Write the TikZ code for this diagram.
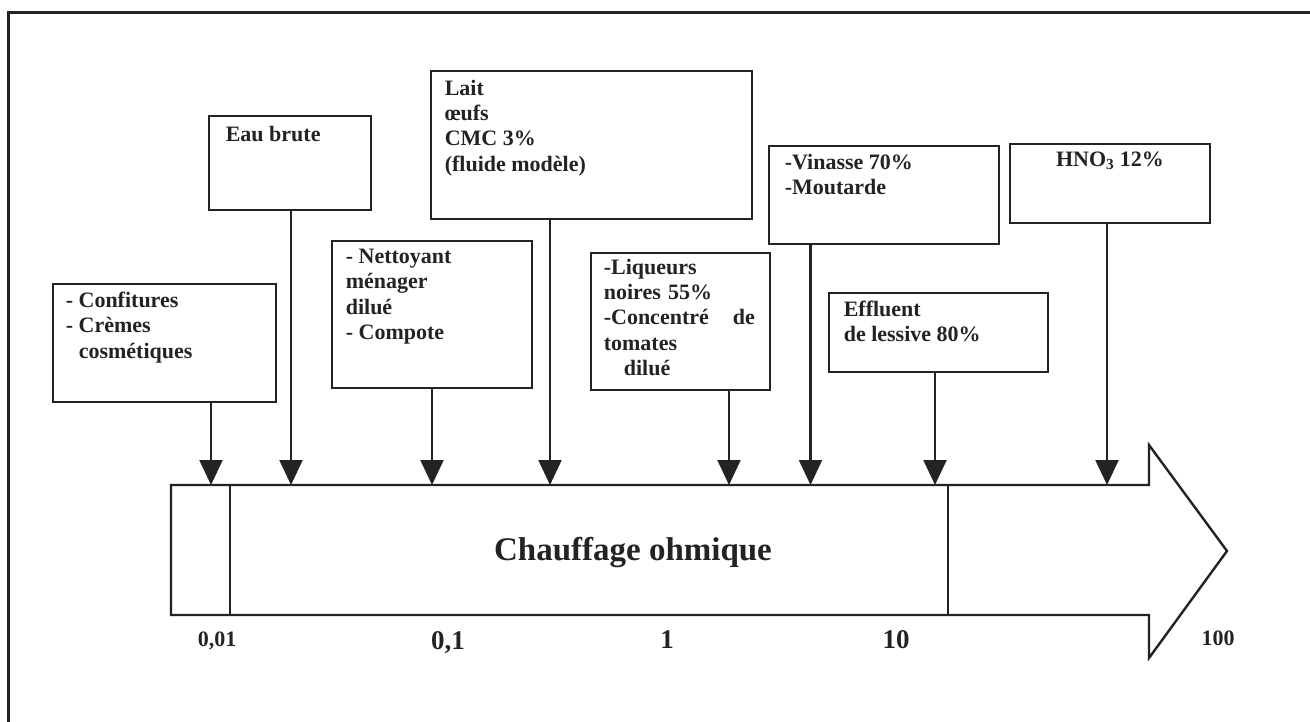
\documentclass[tikz,border=0pt]{standalone}
\usepackage{fontspec}
\setmainfont{Liberation Serif}
\usetikzlibrary{arrows.meta}
\definecolor{ink}{RGB}{35,35,35}

\begin{document}
\begin{tikzpicture}[x=1pt,y=-1pt]
    \tikzset{box/.style={draw=ink, line width=2.8pt, rectangle, inner sep=0pt},
        txt/.style={anchor=north west, inner sep=0pt, align=left, text=ink,
            font=\fontsize{22}{25.4}\selectfont\bfseries},
        scale label/.style={text=ink, inner sep=0pt, anchor=base,
            font=\fontsize{22}{26}\selectfont\bfseries},
        big label/.style={scale label, font=\fontsize{27}{30}\selectfont\bfseries},
        feed/.style={draw=ink, line width=2.2pt, -{Triangle[width=23pt,length=25pt]}},
        band/.style={draw=ink, line width=2.4pt}}
    \useasboundingbox (0,0) rectangle (1310,722);
    \draw[ink, line width=3pt] (8,722) -- (8,13) -- (1310,13);

    % products
    \node[box, minimum width=223pt, minimum height=118pt] (conf) at (164.5,343) {};
    \node[box, minimum width=162pt, minimum height=94pt] (eau) at (290,163) {};
    \node[box, minimum width=321pt, minimum height=148pt] (lait) at (591.5,145) {};
    \node[box, minimum width=200pt, minimum height=147pt] (nett) at (432,314.5) {};
    \node[box, minimum width=179pt, minimum height=137pt] (liq) at (680.5,321.5) {};
    \node[box, minimum width=230pt, minimum height=98pt] (vin) at (884,195) {};
    \node[box, minimum width=219pt, minimum height=79pt] (eff) at (938.5,332.5) {};
    \node[box, minimum width=200pt, minimum height=79pt] (hno) at (1110,183.5) {};

    \node[txt] (conf-t) at ([shift={(14,9)}]conf.north west)
        {- Confitures\\- Crèmes\\\hspace*{13pt}cosmétiques};
    \node[txt] (eau-t) at ([shift={(18,11)}]eau.north west) {Eau brute};
    \node[txt] (lait-t) at ([shift={(15,10)}]lait.north west)
        {Lait\\œufs\\CMC 3\%\\(fluide modèle)};
    \node[txt] (nett-t) at ([shift={(15,9)}]nett.north west)
        {- Nettoyant\\ménager\\dilué\\- Compote};
    \node[txt, text width=151pt] (liq-t) at ([shift={(14,7)}]liq.north west)
        {-Liqueurs\\noires 55\%\\-Concentré\hfill de\\tomates\\\hspace*{20pt}dilué};
    \node[txt] (vin-t) at ([shift={(17,9)}]vin.north west) {-Vinasse 70\%\\-Moutarde};
    \node[txt] (eff-t) at ([shift={(16,9)}]eff.north west) {Effluent\\de lessive 80\%};
    \node[txt, anchor=north] (hno-t) at ([shift={(0,9)}]hno.north) {HNO\textsubscript{3} 12\%};

    % heating band
    \coordinate (bandtop) at (171,485);
    \draw[band] (bandtop) -- (1149,485) -- (1149,445) -- (1227,551) -- (1149,658)
        -- (1149,615) -- (171,615) -- cycle;
    \draw[band] (230,485) -- (230,615);
    \draw[band] (948,485) -- (948,615);
    \node[text=ink, inner sep=0pt, anchor=base, font=\fontsize{33}{38}\selectfont\bfseries]
        (heat) at (633,560) {Chauffage ohmique};

    \foreach \src/\dx in {conf/46.5, eau/1, nett/0, lait/-41.5, liq/48.5, vin/-73.5, eff/-3.5, hno/-3}
        \draw[feed] ([xshift=\dx pt]\src.south) coordinate (s) -- (s |- bandtop);

    \node[scale label] (s001) at (217,646) {0,01};
    \node[big label] (s01) at (448,649) {0,1};
    \node[big label] (s1) at (667,648) {1};
    \node[big label] (s10) at (896,648) {10};
    \node[scale label] (s100) at (1218,645) {100};
\end{tikzpicture}
\end{document}
